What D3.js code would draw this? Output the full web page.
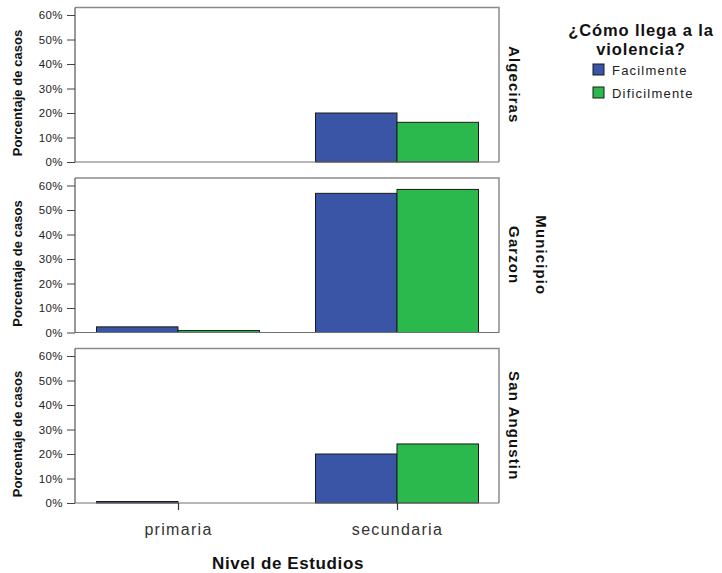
<!DOCTYPE html>
<html>
<head>
<meta charset="utf-8">
<script src="https://cdn.jsdelivr.net/npm/d3@7"></script>
<style>
  html, body { margin: 0; padding: 0; background: #fff; }
  svg { display: block; font-family: "Liberation Sans", Arial, sans-serif; }
</style>
</head>
<body>
<svg id="chart" width="722" height="573"></svg>
<script>
// ---- data ----
const categories = ["primaria", "secundaria"];
const seriesNames = ["Facilmente", "Dificilmente"];
const municipios = ["Algeciras", "Garzon", "San Angustin"];
// percentages per municipio (rows) and nivel de estudios (columns)
const facilmente   = [[0, 20.0], [2.3, 56.8], [0.6, 20.0]];
const dificilmente = [[0, 16.2], [0.8, 58.4], [0, 24.1]];
const yTicks = [0, 10, 20, 30, 40, 50, 60];
const legendTitle = ["¿Cómo llega a la", "violencia?"];
const xTitle = "Nivel de Estudios";
const yTitle = "Porcentaje de casos";
const facetTitle = "Municipio";
const colors = ["#3a55a5", "#2bb84c"];

// ---- layout ----
const svg = d3.select("#chart");
const plotLeft = 75, plotRight = 499;
const panelBottoms = [162, 332.5, 503];
const panelSpan = 147;      // pixels from 0% to 60%
const frameExtra = 7.5;     // frame above the 60% line
const barW = 81.5;

const x = d3.scalePoint().domain(categories).range([178, 397]);
const series = [facilmente, dificilmente];

municipios.forEach((m, mi) => {
  const bottom = panelBottoms[mi];
  const top = bottom - panelSpan - frameExtra;
  const y = d3.scaleLinear().domain([0, 60]).range([bottom, bottom - panelSpan]);
  const g = svg.append("g");

  // frame top & right
  g.append("path")
    .attr("d", `M${plotLeft},${top}H${plotRight}V${bottom}`)
    .attr("fill", "none").attr("stroke", "#8a8a8a").attr("stroke-width", 1.5);

  // bars
  series.forEach((vals, si) => {
    g.selectAll(null).data(categories).enter().append("rect")
      .attr("x", c => x(c) - barW + si * barW)
      .attr("y", (c, ci) => y(vals[mi][ci]))
      .attr("width", barW)
      .attr("height", (c, ci) => y(0) - y(vals[mi][ci]))
      .attr("fill", colors[si])
      .attr("stroke", "#1a1a1a")
      .attr("stroke-width", 1)
      .attr("display", (c, ci) => vals[mi][ci] > 0 ? null : "none");
  });

  // bottom baseline
  g.append("line")
    .attr("x1", plotLeft).attr("x2", plotRight)
    .attr("y1", bottom).attr("y2", bottom)
    .attr("stroke", "#707070").attr("stroke-width", 1.2);

  // y axis
  const yAxis = d3.axisLeft(y).tickValues(yTicks).tickFormat(d => d + "%")
    .tickSize(8).tickPadding(4);
  const ya = g.append("g").attr("transform", `translate(${plotLeft},0)`).call(yAxis);
  ya.select(".domain").attr("d", `M0,${top}V${bottom}`).attr("stroke", "#555").attr("stroke-width", 1.2);
  ya.selectAll(".tick line").attr("stroke", "#444");
  ya.selectAll(".tick text")
    .attr("font-family", "Liberation Sans, Arial, sans-serif")
    .attr("font-size", 11.5).attr("fill", "#222")
    .attr("letter-spacing", 0.4);

  // y title
  g.append("text")
    .attr("transform", `translate(22,${bottom - 69}) rotate(-90)`)
    .attr("text-anchor", "middle")
    .attr("font-size", 13).attr("font-weight", "bold").attr("fill", "#111")
    .attr("letter-spacing", 0.05)
    .text(yTitle);

  // strip label
  g.append("text")
    .attr("transform", `translate(509,${(top + bottom) / 2}) rotate(90)`)
    .attr("text-anchor", "middle")
    .attr("font-size", 15).attr("font-weight", "bold").attr("fill", "#111")
    .attr("letter-spacing", 1.1)
    .text(m);

  // x axis only on the last panel
  if (mi === municipios.length - 1) {
    const xAxis = d3.axisBottom(x).tickSize(7).tickPadding(14);
    const xa = g.append("g").attr("transform", `translate(0,${bottom})`).call(xAxis);
    xa.select(".domain").remove();
    xa.selectAll(".tick line").attr("stroke", "#333").attr("stroke-width", 1.2);
    xa.selectAll(".tick text")
      .attr("font-family", "Liberation Sans, Arial, sans-serif")
      .attr("font-size", 16).attr("fill", "#333")
      .attr("letter-spacing", 1.3);
  }
});

// facet title
svg.append("text")
  .attr("transform", `translate(536,${(panelBottoms[1] - panelSpan - frameExtra + panelBottoms[1]) / 2}) rotate(90)`)
  .attr("text-anchor", "middle")
  .attr("font-size", 15).attr("font-weight", "bold").attr("fill", "#111")
  .attr("letter-spacing", 1.1)
  .text(facetTitle);

// x title
svg.append("text")
  .attr("x", 288).attr("y", 569)
  .attr("text-anchor", "middle")
  .attr("font-size", 17).attr("font-weight", "bold").attr("fill", "#111")
  .attr("letter-spacing", 0.6)
  .text(xTitle);

// legend
const lg = svg.append("g");
legendTitle.forEach((t, i) => {
  lg.append("text")
    .attr("x", 641).attr("y", 36 + i * 18.5)
    .attr("text-anchor", "middle")
    .attr("font-size", 16.5).attr("font-weight", "bold").attr("fill", "#111")
    .attr("letter-spacing", 0.9)
    .text(t);
});
const items = lg.selectAll(".item").data(seriesNames).enter().append("g")
  .attr("transform", (d, i) => `translate(593,${64 + i * 23})`);
items.append("rect")
  .attr("width", 11).attr("height", 11)
  .attr("fill", (d, i) => colors[i])
  .attr("stroke", "#1a1a1a").attr("stroke-width", 1);
items.append("text")
  .attr("x", 19).attr("y", 10.5)
  .attr("font-size", 13).attr("fill", "#222")
  .attr("letter-spacing", 1.2)
  .text(d => d);
</script>
</body>
</html>
